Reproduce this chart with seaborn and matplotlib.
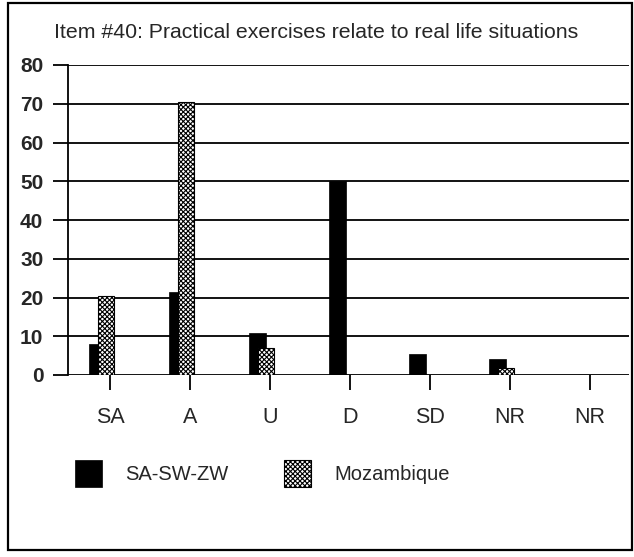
import matplotlib
matplotlib.use("Agg")
import matplotlib.pyplot as plt
from matplotlib.patches import Rectangle
import numpy as np
import pandas as pd
import seaborn as sns

# Survey responses (percent) for item #40
categories = ["SA", "A", "U", "D", "SD", "NR", "NR"]
sa_sw_zw = [8, 21.5, 10.8, 50, 5.4, 4.1, 0]
mozambique = [20.5, 70.5, 6.9, 0, 0, 1.8, 0]
series_names = ["SA-SW-ZW", "Mozambique"]
y_ticks = [0, 10, 20, 30, 40, 50, 60, 70, 80]
title = "Item #40: Practical exercises relate to real life situations"

sns.set_style("white")
plt.rcParams["font.family"] = ["Liberation Sans", "DejaVu Sans"]
plt.rcParams["hatch.linewidth"] = 0.8
plt.rcParams["hatch.color"] = "black"

W, H = 634, 557
fig = plt.figure(figsize=(W / 100, H / 100), dpi=100)
fig.patch.set_facecolor("white")

# plot area in pixel terms
left, right, top, bottom = 68, 629, 65, 375
ax = fig.add_axes([left / W, 1 - bottom / H, (right - left) / W, (bottom - top) / H])

pos = np.arange(len(categories))
bar_w = 0.21
df_a = pd.DataFrame({"x": pos - 0.16, "value": sa_sw_zw})
df_b = pd.DataFrame({"x": pos - 0.05, "value": mozambique})

sns.barplot(data=df_a, x="x", y="value", native_scale=True, width=bar_w,
            color="black", saturation=1, edgecolor="black", linewidth=0.5,
            ax=ax)
sns.barplot(data=df_b, x="x", y="value", native_scale=True, width=bar_w,
            color="white", saturation=1, edgecolor="black", linewidth=0.8,
            hatch="xxxxxxx", ax=ax)
if ax.get_legend() is not None:
    ax.get_legend().remove()

ax.set_xlim(-(110 - left) / 80, (right - 110) / 80)
ax.set_ylim(0, 80)
ax.set_xlabel("")
ax.set_ylabel("")

ax.set_yticks(y_ticks)
ax.set_yticklabels([str(t) for t in y_ticks], fontsize=15, fontweight="bold")
ax.set_xticks(pos)
ax.set_xticklabels(categories, fontsize=15.5)

ax.set_axisbelow(True)
ax.yaxis.grid(True, color="black", linewidth=1.3)
ax.xaxis.grid(False)
for s in ["top", "right", "bottom"]:
    ax.spines[s].set_visible(False)
ax.spines["left"].set_color("black")
ax.spines["left"].set_linewidth(1.3)

ax.tick_params(axis="y", direction="out", length=10.8, width=1.3, color="black",
               pad=7, left=True)
ax.tick_params(axis="x", direction="out", length=10.8, width=1.3, color="black",
               pad=12, bottom=True)

# legend below the plot
handles = [ax.patches[0], ax.patches[len(categories)]]
fig.legend(handles, series_names, loc="upper left",
           bbox_to_anchor=(75 / W, 1 - 460 / H), ncol=2, frameon=False,
           fontsize=14.5, handlelength=1.35, handleheight=1.65,
           handletextpad=1.15, columnspacing=2.75, borderpad=0, borderaxespad=0)

fig.text(316 / W, 1 - 32 / H, title, ha="center", va="center", fontsize=15.3)

# frame around the whole chart
fig.patches.append(Rectangle((8 / W, 1 - 550 / H), 624 / W, 547 / H,
                             transform=fig.transFigure, fill=False,
                             edgecolor="black", linewidth=1.6))

fig.savefig("out.png", dpi=100)
